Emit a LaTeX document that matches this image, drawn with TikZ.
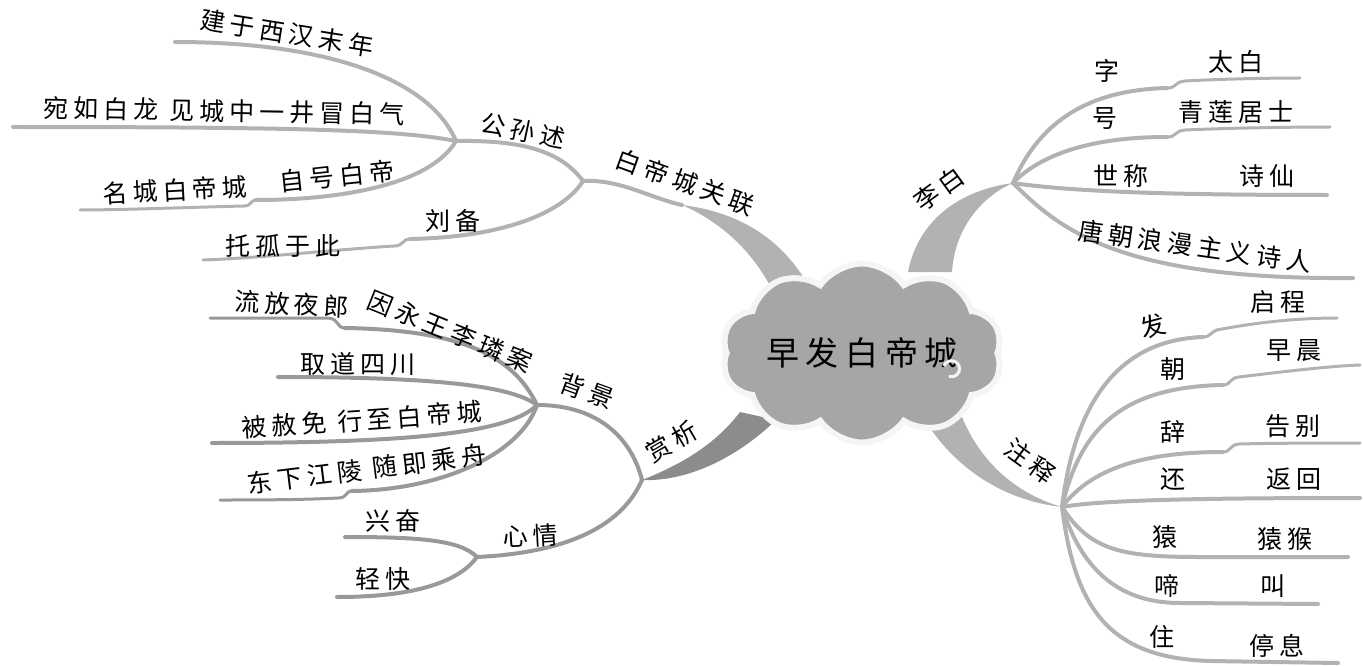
\documentclass[tikz,border=0pt]{standalone}
\usepackage{fontspec}
\newfontfamily\cjk{Noto Sans CJK SC}[LetterSpace=20]
\usetikzlibrary{shapes.symbols}
\begin{document}
\begin{tikzpicture}[
        x=1pt, y=-1pt,
        topic/.style={cloud, cloud puffs=10, cloud puff arc=110, aspect=1.9, fill=gray!70, draw=gray!8, line width=6pt, minimum width=240pt, minimum height=130pt, inner sep=0pt, font=\cjk\fontsize{33}{33}\selectfont},
        txt/.style={inner sep=0pt, font=\cjk\fontsize{25}{25}\selectfont},
        trunk/.style={fill=gray!60},
        trunkd/.style={fill=gray!90},
        twig/.style={draw=gray!60, line width=4pt, line cap=round},
        twigd/.style={twig, draw=gray!80},
        leaf/.style={twig, line width=3pt},
        leafd/.style={twigd, line width=3pt},
    ]
        \useasboundingbox (0,0) rectangle (1363,666);

        \coordinate (bdHub) at (583,181);
        \coordinate (bdNeck) at (682,205);
        \coordinate (gsHub) at (456,141);
        \coordinate (sxHub) at (642,480);
        \coordinate (bjHub) at (537,405);
        \coordinate (xqHub) at (477,557);
        \coordinate (lbHub) at (1013,183);
        \coordinate (zsHub) at (1062,507);

        \coordinate (jyEnd) at (175,42);
        \coordinate (wrEnd) at (13,127);
        \coordinate (zhMid) at (256,200);
        \coordinate (mcEnd) at (80,210);
        \coordinate (liuMid) at (410,239);
        \coordinate (tgEnd) at (203,260);
        \coordinate (lfMid) at (345,328);
        \coordinate (lfEnd) at (210,318);
        \coordinate (qdEnd) at (278,377);
        \coordinate (bsEnd) at (212,443);
        \coordinate (dxMid) at (352,491);
        \coordinate (dxEnd) at (220,500);
        \coordinate (xfEnd) at (345,537);
        \coordinate (qkEnd) at (337,597);
        \coordinate (ziMid) at (1167,88);
        \coordinate (ziEnd) at (1300,78);
        \coordinate (haoMid) at (1167,137);
        \coordinate (haoEnd) at (1330,127);
        \coordinate (scEnd) at (1327,195);
        \coordinate (tcEnd) at (1353,278);
        \coordinate (faMid) at (1203,337);
        \coordinate (faEnd) at (1337,318);
        \coordinate (zhaoMid) at (1223,385);
        \coordinate (zhaoEnd) at (1360,365);
        \coordinate (ciMid) at (1223,452);
        \coordinate (ciEnd) at (1360,443);
        \coordinate (huanEnd) at (1360,498);
        \coordinate (yuanEnd) at (1348,557);
        \coordinate (tiEnd) at (1318,604);
        \coordinate (zhuEnd) at (1338,663);

        \draw[twig] (bdHub) .. controls (620,179) and (650,198) .. (bdNeck);
        \fill[trunk] (bdNeck) .. controls (740,212) and (785,240) .. (812,292) -- (776,298) .. controls (760,262) and (730,226) .. (bdNeck) -- cycle;
        \fill[trunk] (908,272) .. controls (918,220) and (960,190) .. (lbHub) .. controls (985,195) and (955,225) .. (952,272) -- cycle;
        \fill[trunk] (920,412) .. controls (950,465) and (1000,500) .. (zsHub) .. controls (1020,495) and (980,465) .. (960,412) -- cycle;
        \fill[trunkd] (sxHub) .. controls (680,465) and (715,445) .. (740,412) -- (776,420) .. controls (740,455) and (690,482) .. (sxHub) -- cycle;

        \node[topic] (title) at (862,353) {早发白帝城};
        \draw[draw=gray!8, line width=3pt] (944,366) arc[start angle=200, end angle=470, radius=8];

        \draw[twig] (bdHub) .. controls (560,150) and (520,140) .. (gsHub);
        \draw[twig] (gsHub) .. controls (430,80) and (330,42) .. (jyEnd);
        \draw[twig] (gsHub) .. controls (400,130) and (300,127) .. (wrEnd);
        \draw[twig] (gsHub) .. controls (430,185) and (340,200) .. (zhMid);
        \draw[leaf] (zhMid) .. controls (250,200) and (252,206) .. (244,206) .. controls (200,207) and (120,210) .. (mcEnd);
        \draw[twig] (bdHub) .. controls (565,210) and (510,237) .. (liuMid);
        \draw[leaf] (liuMid) .. controls (402,239) and (404,246) .. (394,246) .. controls (330,250) and (260,258) .. (tgEnd);

        \draw[twigd] (sxHub) .. controls (632,440) and (600,405) .. (bjHub);
        \draw[twigd] (bjHub) .. controls (515,360) and (470,330) .. (lfMid);
        \draw[leafd] (lfMid) .. controls (336,328) and (340,319) .. (328,318) .. controls (290,318) and (240,318) .. (lfEnd);
        \draw[twigd] (bjHub) .. controls (510,385) and (430,377) .. (qdEnd);
        \draw[twigd] (bjHub) .. controls (510,432) and (420,443) .. (bsEnd);
        \draw[twigd] (bjHub) .. controls (520,455) and (440,490) .. (dxMid);
        \draw[leafd] (dxMid) .. controls (345,491) and (348,498) .. (338,498) .. controls (300,500) and (250,500) .. (dxEnd);
        \draw[twigd] (sxHub) .. controls (620,530) and (560,553) .. (xqHub);
        \draw[twigd] (xqHub) .. controls (460,540) and (420,537) .. (xfEnd);
        \draw[twigd] (xqHub) .. controls (460,580) and (420,597) .. (qkEnd);

        \draw[twig] (lbHub) .. controls (1040,120) and (1090,90) .. (ziMid);
        \draw[leaf] (ziMid) .. controls (1177,88) and (1174,82) .. (1185,81) .. controls (1220,79) and (1270,78) .. (ziEnd);
        \draw[twig] (lbHub) .. controls (1040,155) and (1090,137) .. (haoMid);
        \draw[leaf] (haoMid) .. controls (1177,137) and (1174,131) .. (1185,130) .. controls (1230,128) and (1290,127) .. (haoEnd);
        \draw[twig] (lbHub) .. controls (1080,193) and (1200,195) .. (scEnd);
        \draw[twig] (lbHub) .. controls (1060,230) and (1120,280) .. (tcEnd);

        \draw[twig] (zsHub) .. controls (1075,400) and (1120,340) .. (faMid);
        \draw[leaf] (faMid) .. controls (1212,337) and (1210,330) .. (1222,329) .. controls (1260,322) and (1300,318) .. (faEnd);
        \draw[twig] (zsHub) .. controls (1080,430) and (1120,387) .. (zhaoMid);
        \draw[leaf] (zhaoMid) .. controls (1231,385) and (1229,378) .. (1239,377) .. controls (1280,372) and (1330,366) .. (zhaoEnd);
        \draw[twig] (zsHub) .. controls (1090,470) and (1140,452) .. (ciMid);
        \draw[leaf] (ciMid) .. controls (1231,452) and (1229,445) .. (1239,444) .. controls (1280,443) and (1330,443) .. (ciEnd);
        \draw[twig] (zsHub) .. controls (1100,500) and (1200,498) .. (huanEnd);
        \draw[twig] (zsHub) .. controls (1090,550) and (1120,557) .. (1200,557) -- (yuanEnd);
        \draw[twig] (zsHub) .. controls (1080,565) and (1115,603) .. (1180,603) -- (tiEnd);
        \draw[twig] (zsHub) .. controls (1075,610) and (1110,658) .. (1210,661) -- (zhuEnd);

        \node[txt, rotate=-9] (jianyu) at (287,33) {建于西汉末年};
        \node[txt, rotate=-1] (wanru) at (224,111) {宛如白龙 见城中一井冒白气};
        \node[txt, rotate=6] (zihao) at (337,176) {自号白帝};
        \node[txt, rotate=3] (mingcheng) at (175,190) {名城白帝城};
        \node[txt] (liubei) at (453,221) {刘备};
        \node[txt] (tuogu) at (283,246) {托孤于此};
        \node[txt, rotate=-12] (gongsun) at (523,131) {公孙述};
        \node[txt, rotate=-20] (bdcity) at (685,182) {白帝城关联};

        \node[txt, rotate=-3] (liufang) at (292,304) {流放夜郎};
        \node[txt, rotate=-22] (yinyong) at (450,331) {因永王李璘案};
        \node[txt] (qudao) at (358,364) {取道四川};
        \node[txt, rotate=4] (beishe) at (362,420) {被赦免 行至白帝城};
        \node[txt, rotate=7] (dongxia) at (367,469) {东下江陵 随即乘舟};
        \node[txt, rotate=-20] (beijing) at (587,391) {背景};
        \node[txt, rotate=30] (shangxi) at (672,441) {赏析};
        \node[txt, rotate=3] (xinqing) at (530,536) {心情};
        \node[txt] (xingfen) at (393,521) {兴奋};
        \node[txt] (qingkuai) at (383,579) {轻快};

        \node[txt, rotate=36] (libai) at (939,189) {李白};
        \node[txt] (zi) at (1107,71) {字};
        \node[txt] (taibai) at (1236,62) {太白};
        \node[txt] (hao) at (1105,119) {号};
        \node[txt] (qinglian) at (1236,112) {青莲居士};
        \node[txt] (shicheng) at (1121,176) {世称};
        \node[txt] (shixian) at (1267,176) {诗仙};
        \node[txt, rotate=-8] (tangchao) at (1195,246) {唐朝浪漫主义诗人};

        \node[txt, rotate=-36] (zhushi) at (1030,461) {注释};
        \node[txt, rotate=15] (fa) at (1153,326) {发};
        \node[txt] (qicheng) at (1278,302) {启程};
        \node[txt] (zhao) at (1173,369) {朝};
        \node[txt] (zaochen) at (1294,351) {早晨};
        \node[txt] (ci) at (1173,432) {辞};
        \node[txt] (gaobie) at (1293,426) {告别};
        \node[txt] (huan) at (1173,479) {还};
        \node[txt] (fanhui) at (1294,479) {返回};
        \node[txt] (yuan) at (1165,537) {猿};
        \node[txt] (yuanhou) at (1285,539) {猿猴};
        \node[txt] (ti) at (1167,586) {啼};
        \node[txt] (jiao) at (1273,586) {叫};
        \node[txt] (zhu) at (1162,637) {住};
        \node[txt] (tingxi) at (1277,646) {停息};
    \end{tikzpicture}
\end{document}
